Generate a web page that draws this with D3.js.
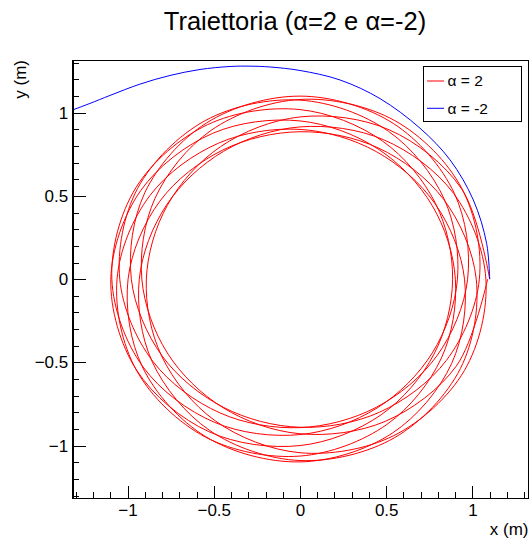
<!DOCTYPE html>
<html>
<head>
<meta charset="utf-8">
<script src="https://cdn.jsdelivr.net/npm/d3@7"></script>
<style>
body { margin: 0; background: #fff; }
svg { display: block; font-family: "Liberation Sans", Arial, Helvetica, sans-serif; }
</style>
</head>
<body>
<svg id="chart" width="532" height="541"></svg>
<script>
// alpha = 2 : polar samples, one row per revolution (radius in m), angles in degrees
var sampleAngles = [0, 30, 60, 90, 120, 150, 180, 210, 240, 270, 300, 330]
var redRadius = [
	[1.100, 1.083, 1.036, 0.975, 0.920, 0.888, 0.891, 0.926, 0.983, 1.043, 1.086, 1.100],
	[1.078, 1.029, 0.968, 0.915, 0.887, 0.893, 0.932, 0.990, 1.049, 1.090, 1.099, 1.074],
	[1.022, 0.961, 0.910, 0.886, 0.896, 0.938, 0.997, 1.055, 1.093, 1.098, 1.069, 1.015],
	[0.954, 0.905, 0.885, 0.900, 0.944, 1.005, 1.061, 1.095, 1.096, 1.063, 1.008, 0.947],
	[0.901, 0.885, 0.904, 0.951, 1.012, 1.066, 1.097, 1.094, 1.058, 1.000, 0.941, 0.898],
	[0.885, 0.908, 0.958, 1.019, 1.072, 1.099, 1.091, 1.052, 0.993, 0.934, 0.894, 0.886],
	[0.913, 0.965, 1.026, 1.076, 1.100, 1.088, 1.045, 0.986, 0.928, 0.892, 0.888, 0.918],
	[0.972, 1.033, 1.081, 1.100, 1.084, 1.039, 0.978, 0.923, 0.889, 0.890, 0.923, 0.979],
	[1.040, 1.085, 1.100, 1.080, 1.032, 0.971, 0.917, 0.888, 0.892, 0.929, 0.987, 1.046]
]
var redLastRadius = 1.088

var blueX = [1.100, 1.082, 1.005, 0.870, 0.696, 0.464, 0.232, 0.000, -0.174, -0.290, -0.406, -0.580, -0.754, -0.928, -1.102, -1.218, -1.318, -1.400]
var blueY = [0.000, 0.216, 0.476, 0.717, 0.907, 1.085, 1.197, 1.254, 1.275, 1.280, 1.278, 1.260, 1.224, 1.172, 1.104, 1.056, 1.017, 0.986]

var majorTicks = [-1, -0.5, 0, 0.5, 1]
var legendLabels = ['\u03b1 = 2', '\u03b1 = -2']
var legendColors = ['#ff0000', '#0000ff']
var titleText = 'Traiettoria (\u03b1=2 e \u03b1=-2)'

var frame = {left: 72.7, right: 528.5, top: 60, bottom: 498}

var svg = d3.select('#chart')

var x = d3.scaleLinear()
	.domain([-1.318, 1.325])
	.range([frame.left, frame.right])

var y = d3.scaleLinear()
	.domain([-1.315, 1.317])
	.range([frame.bottom, frame.top])

var minorTicks = d3.range(-13, 14).map(d => d / 10)

// build red points from the polar table
var redPts = []
redRadius.forEach((row, k) => {
	row.forEach((r, j) => {
		var th = (360 * k + sampleAngles[j]) * Math.PI / 180
		redPts.push([r * Math.cos(th), r * Math.sin(th)])
	})
})
redPts.push([redLastRadius, 0]) // back on the +x axis after 9 turns

var bluePts = blueX.map((d, i) => [d, blueY[i]])

svg.append('defs').append('clipPath')
	.attr('id', 'frameClip')
	.append('rect')
		.attr('x', frame.left)
		.attr('y', frame.top)
		.attr('width', frame.right - frame.left)
		.attr('height', frame.bottom - frame.top)

var line = d3.line()
	.x(d => x(d[0]))
	.y(d => y(d[1]))
	.curve(d3.curveCatmullRom.alpha(0.5))

var plot = svg.append('g').attr('clip-path', 'url(#frameClip)')

plot.append('path')
	.attr('d', line(redPts))
	.attr('fill', 'none')
	.attr('stroke', '#ff0000')
	.attr('stroke-width', 1)

plot.append('path')
	.attr('d', line(bluePts))
	.attr('fill', 'none')
	.attr('stroke', '#0000ff')
	.attr('stroke-width', 1)

// frame
svg.append('rect')
	.attr('x', frame.left)
	.attr('y', frame.top)
	.attr('width', frame.right - frame.left)
	.attr('height', frame.bottom - frame.top)
	.attr('fill', 'none')
	.attr('stroke', '#000')
	.attr('shape-rendering', 'crispEdges')

// AXES
var fmt = d3.format('')

svg.append('g')
	.attr('transform', 'translate(0,' + frame.bottom + ')')
	.call(d3.axisBottom(x).tickValues(minorTicks).tickSize(-6).tickSizeOuter(0).tickFormat(''))

svg.append('g')
	.attr('transform', 'translate(0,' + frame.bottom + ')')
	.call(d3.axisBottom(x).tickValues(majorTicks).tickSize(-12).tickSizeOuter(0).tickPadding(6).tickFormat(fmt))

svg.append('g')
	.attr('transform', 'translate(' + frame.left + ',0)')
	.call(d3.axisLeft(y).tickValues(minorTicks).tickSize(-6.5).tickSizeOuter(0).tickFormat(''))

svg.append('g')
	.attr('transform', 'translate(' + frame.left + ',0)')
	.call(d3.axisLeft(y).tickValues(majorTicks).tickSize(-13).tickSizeOuter(0).tickPadding(4.5).tickFormat(fmt))

svg.selectAll('.domain, .tick line')
	.attr('stroke', '#000')
	.attr('shape-rendering', 'crispEdges')

svg.selectAll('.tick text')
	.attr('fill', '#000')
	.style('font-size', '17px')
	.style('font-family', '"Liberation Sans", Arial, sans-serif')

// axis titles
svg.append('text')
	.attr('x', frame.right)
	.attr('y', 535)
	.attr('text-anchor', 'end')
	.style('font-size', '17px')
	.text('x (m)')

svg.append('text')
	.attr('transform', 'translate(26,' + frame.top + ') rotate(-90)')
	.attr('text-anchor', 'end')
	.style('font-size', '17px')
	.text('y (m)')

// title
svg.append('text')
	.attr('x', 295)
	.attr('y', 29.5)
	.attr('text-anchor', 'middle')
	.style('font-size', '25.5px')
	.text(titleText)

// legend
var legend = svg.append('g')

legend.append('rect')
	.attr('x', 423.5)
	.attr('y', 66.5)
	.attr('width', 98)
	.attr('height', 55)
	.attr('fill', '#fff')
	.attr('stroke', '#000')
	.attr('shape-rendering', 'crispEdges')

legend.selectAll('line.leg')
	.data(legendLabels)
	.enter()
	.append('line')
		.attr('class', 'leg')
		.attr('x1', 427)
		.attr('x2', 444)
		.attr('y1', (d, i) => 81 + i * 27.3)
		.attr('y2', (d, i) => 81 + i * 27.3)
		.attr('stroke', (d, i) => legendColors[i])

legend.selectAll('text.leg')
	.data(legendLabels)
	.enter()
	.append('text')
		.attr('class', 'leg')
		.attr('x', 447.5)
		.attr('y', (d, i) => 81 + i * 27.3)
		.attr('dy', '0.35em')
		.style('font-size', '15.5px')
		.text(d => d)
</script>
</body>
</html>
